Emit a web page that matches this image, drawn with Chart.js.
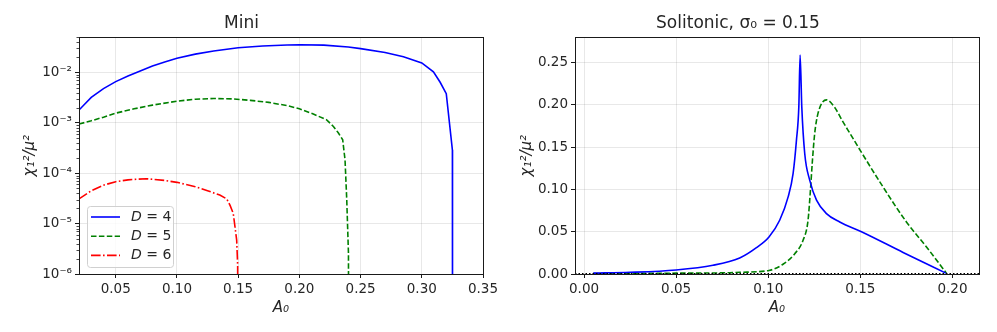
<!DOCTYPE html>
<html>
<head>
<meta charset="utf-8">
<script src="https://cdn.jsdelivr.net/npm/chart.js@4/dist/chart.umd.min.js"></script>
<style>
  body { margin: 0; background: #fff; width: 997px; height: 332px; overflow: hidden; }
  canvas { position: absolute; top: 0; }
  #mini-chart { left: 0; }
  #soli-chart { left: 497px; }
</style>
</head>
<body>
<canvas id="mini-chart" width="497" height="332"></canvas>
<canvas id="soli-chart" width="500" height="332"></canvas>
<script>
// left panel: Mini, log axis
const miniXTicks = [0.05, 0.10, 0.15, 0.20, 0.25, 0.30, 0.35];
const miniYTicks = [1e-6, 1e-5, 1e-4, 1e-3, 1e-2];

const miniD4X = [0.02, 0.03, 0.04, 0.05, 0.06, 0.07, 0.08, 0.09, 0.10, 0.115, 0.13, 0.15, 0.17, 0.19, 0.20, 0.22, 0.24, 0.25, 0.27, 0.285, 0.30, 0.3095, 0.315, 0.32, 0.325, 0.3251];
const miniD4Y = [1.8e-3, 3.2e-3, 4.8e-3, 6.6e-3, 8.5e-3, 0.0107, 0.0134, 0.0162, 0.0192, 0.0232, 0.0267, 0.031, 0.0336, 0.0352, 0.0355, 0.035, 0.032, 0.0298, 0.025, 0.0205, 0.0155, 0.0103, 0.0064, 0.0038, 2.9e-4, 1e-8];

const miniD5X = [0.02, 0.03, 0.04, 0.05, 0.065, 0.08, 0.10, 0.115, 0.13, 0.145, 0.16, 0.175, 0.19, 0.20, 0.2114, 0.2223, 0.2278, 0.2319, 0.2354, 0.2373, 0.2387, 0.2401, 0.2403];
const miniD5Y = [9.5e-4, 1.1e-3, 1.3e-3, 1.56e-3, 1.9e-3, 2.25e-3, 2.7e-3, 2.95e-3, 3.05e-3, 3.0e-3, 2.8e-3, 2.55e-3, 2.2e-3, 1.9e-3, 1.5e-3, 1.15e-3, 8.5e-4, 6.3e-4, 4.6e-4, 1.85e-4, 3e-5, 2.6e-6, 1e-8];

const miniD6X = [0.02, 0.03, 0.04, 0.05, 0.06, 0.075, 0.09, 0.10, 0.115, 0.125, 0.135, 0.1407, 0.1434, 0.146, 0.1488, 0.1496, 0.1497];
const miniD6Y = [3.1e-5, 4.5e-5, 5.8e-5, 6.8e-5, 7.4e-5, 7.8e-5, 7.2e-5, 6.6e-5, 5.4e-5, 4.5e-5, 3.7e-5, 3.1e-5, 2.3e-5, 1.6e-5, 4.7e-6, 1.5e-6, 1e-8];

// right panel: Solitonic
const soliXTicks = [0.00, 0.05, 0.10, 0.15, 0.20];
const soliYTicks = [0.00, 0.05, 0.10, 0.15, 0.20, 0.25];

const soliBlueX = [0.005, 0.025, 0.05, 0.07, 0.0845, 0.0936, 0.1004, 0.1062, 0.1108, 0.1135, 0.1153, 0.1166, 0.1173, 0.1182, 0.1198, 0.1225, 0.1262, 0.1316, 0.1388, 0.1506, 0.1732, 0.1964];
const soliBlueY = [0.001, 0.002, 0.0048, 0.0103, 0.019, 0.0312, 0.0438, 0.0636, 0.0912, 0.119, 0.158, 0.198, 0.259, 0.198, 0.1426, 0.111, 0.0873, 0.0715, 0.0615, 0.050, 0.0255, 0.001];

const soliGreenX = [0.005, 0.05, 0.079, 0.0845, 0.1004, 0.108, 0.1144, 0.1189, 0.1216, 0.1229, 0.124, 0.1252, 0.127, 0.1316, 0.1361, 0.14, 0.145, 0.15, 0.1623, 0.175, 0.1859, 0.1967];
const soliGreenY = [0.0005, 0.001, 0.0015, 0.002, 0.0042, 0.0115, 0.024, 0.040, 0.0636, 0.0992, 0.1347, 0.166, 0.19, 0.206, 0.197, 0.182, 0.164, 0.146, 0.103, 0.0616, 0.032, 0.001];

const FONT = "'DejaVu Sans', sans-serif";
const TEXT = "#262626";
const GRID = "rgba(0,0,0,0.09)";

function pts(xs, ys) {
  return xs.map((x, i) => ({ x: x, y: ys[i] }));
}

function sup(n) {
  const m = { "-": "\u207B", "0": "\u2070", "1": "\u00B9", "2": "\u00B2", "3": "\u00B3", "4": "\u2074", "5": "\u2075", "6": "\u2076", "7": "\u2077", "8": "\u2078", "9": "\u2079" };
  return String(n).split("").map(c => m[c]).join("");
}

const framePlugin = {
  id: "frame",
  afterDraw(chart) {
    const a = chart.chartArea, ctx = chart.ctx;
    ctx.save();
    ctx.strokeStyle = "#1a1a1a";
    ctx.lineWidth = 1;
    ctx.strokeRect(Math.round(a.left) + 0.5, Math.round(a.top) + 0.5, Math.round(a.right - a.left), Math.round(a.bottom - a.top));
    ctx.restore();
  }
};

const minorTicks = {
  id: "minorTicks",
  afterDraw(chart) {
    const y = chart.scales.y, ctx = chart.ctx;
    const left = Math.round(chart.chartArea.left);
    ctx.save();
    ctx.strokeStyle = "#1a1a1a";
    ctx.lineWidth = 0.8;
    for (let k = -6; k <= -2; k++) {
      for (let m = 2; m <= 9; m++) {
        const v = m * Math.pow(10, k);
        if (v > y.max) continue;
        const py = Math.round(y.getPixelForValue(v)) + 0.5;
        ctx.beginPath();
        ctx.moveTo(left - 2.5, py);
        ctx.lineTo(left, py);
        ctx.stroke();
      }
    }
    ctx.restore();
  }
};

const miniLegend = {
  id: "miniLegend",
  afterDraw(chart) {
    const ctx = chart.ctx;
    const bx = 87, by = 206, bw = 86, bh = 61;
    ctx.save();
    ctx.fillStyle = "rgba(255,255,255,0.8)";
    ctx.strokeStyle = "#d0d0d0";
    ctx.lineWidth = 1;
    ctx.beginPath();
    ctx.roundRect(bx + 0.5, by + 0.5, bw, bh, 3);
    ctx.fill();
    ctx.stroke();
    chart.data.datasets.forEach((ds, i) => {
      const ly = by + 11 + i * 19.2;
      ctx.strokeStyle = ds.borderColor;
      ctx.lineWidth = ds.borderWidth;
      ctx.setLineDash(ds.borderDash || []);
      ctx.beginPath();
      ctx.moveTo(91, ly);
      ctx.lineTo(120, ly);
      ctx.stroke();
      ctx.setLineDash([]);
      ctx.fillStyle = TEXT;
      ctx.textBaseline = "middle";
      ctx.font = "italic 14px " + FONT;
      ctx.fillText("D", 131, ly);
      const w = ctx.measureText("D").width;
      ctx.font = "14px " + FONT;
      ctx.fillText(" = " + ds.label.split("=")[1].trim(), 131 + w, ly);
    });
    ctx.restore();
  }
};

const zeroLine = {
  id: "zeroLine",
  afterDatasetsDraw(chart) {
    const a = chart.chartArea, ctx = chart.ctx;
    const py = Math.round(chart.scales.y.getPixelForValue(0)) - 0.5;
    ctx.save();
    ctx.strokeStyle = "#000";
    ctx.lineWidth = 1;
    ctx.setLineDash([1.5, 2]);
    ctx.beginPath();
    ctx.moveTo(a.left, py);
    ctx.lineTo(a.right, py);
    ctx.stroke();
    ctx.restore();
  }
};

function xScale(min, max, ticks) {
  return {
    type: "linear", min: min, max: max,
    afterBuildTicks: s => { s.ticks = ticks.map(v => ({ value: v })); },
    afterFit: s => { s.height = 58; s.paddingLeft = 0; s.paddingRight = 0; },
    ticks: { color: TEXT, font: { family: FONT, size: 13.5 }, padding: 3, maxRotation: 0, callback: v => v.toFixed(2) },
    grid: { color: GRID, tickColor: "#1a1a1a", tickLength: 4 },
    border: { display: false },
    title: { display: true, text: "A\u2080", color: TEXT, font: { family: FONT, size: 15, style: "italic" }, padding: { top: 0, bottom: 15 } }
  };
}

function yTitle() {
  return { display: true, text: "\u03C7\u2081\u00B2/\u03BC\u00B2", color: TEXT, font: { family: FONT, size: 15, style: "italic" }, padding: { top: 21, bottom: 0 } };
}

function titleOpts(text) {
  return { display: true, text: text, color: TEXT, font: { family: FONT, size: 17, weight: "normal" }, padding: { top: 13.5, bottom: 3.4 } };
}

new Chart(document.getElementById("mini-chart"), {
  type: "line",
  data: {
    datasets: [
      { label: "D = 4", data: pts(miniD4X, miniD4Y), borderColor: "#0000ff", borderWidth: 1.6, pointRadius: 0, tension: 0 },
      { label: "D = 5", data: pts(miniD5X, miniD5Y), borderColor: "#008000", borderWidth: 1.6, pointRadius: 0, tension: 0, borderDash: [5.5, 2.4] },
      { label: "D = 6", data: pts(miniD6X, miniD6Y), borderColor: "#ff0000", borderWidth: 1.6, pointRadius: 0, tension: 0, borderDash: [9.6, 2.4, 1.6, 2.4] }
    ]
  },
  options: {
    responsive: false, animation: false, devicePixelRatio: 1,
    layout: { padding: { left: 0, right: 14, top: 0, bottom: 0 } },
    plugins: { legend: { display: false }, tooltip: { enabled: false }, title: titleOpts("Mini") },
    scales: {
      x: xScale(0.02, 0.35, miniXTicks),
      y: {
        type: "logarithmic", min: 1e-6, max: 0.05,
        afterBuildTicks: s => { s.ticks = miniYTicks.map(v => ({ value: v })); },
        afterFit: s => { s.width = 79; s.paddingTop = 0; s.paddingBottom = 0; },
        ticks: { color: TEXT, font: { family: FONT, size: 13.5 }, padding: 3, callback: v => "10" + sup(Math.round(Math.log10(v))) },
        grid: { color: GRID, tickColor: "#1a1a1a", tickLength: 4 },
        border: { display: false },
        title: yTitle()
      }
    }
  },
  plugins: [framePlugin, minorTicks, miniLegend]
});

new Chart(document.getElementById("soli-chart"), {
  type: "line",
  data: {
    datasets: [
      { label: "D = 4", data: pts(soliBlueX, soliBlueY), borderColor: "#0000ff", borderWidth: 1.6, pointRadius: 0, cubicInterpolationMode: "monotone" },
      { label: "D = 5", data: pts(soliGreenX, soliGreenY), borderColor: "#008000", borderWidth: 1.6, pointRadius: 0, cubicInterpolationMode: "monotone", borderDash: [5.5, 2.4] }
    ]
  },
  options: {
    responsive: false, animation: false, devicePixelRatio: 1,
    layout: { padding: { left: 0, right: 18, top: 0, bottom: 0 } },
    plugins: { legend: { display: false }, tooltip: { enabled: false }, title: titleOpts("Solitonic, \u03C3\u2080 = 0.15") },
    scales: {
      x: xScale(-0.0049, 0.2144, soliXTicks),
      y: {
        type: "linear", min: 0, max: 0.28,
        afterBuildTicks: s => { s.ticks = soliYTicks.map(v => ({ value: v })); },
        afterFit: s => { s.width = 78; s.paddingTop = 0; s.paddingBottom = 0; },
        ticks: { color: TEXT, font: { family: FONT, size: 13.5 }, padding: 3, callback: v => v.toFixed(2) },
        grid: { color: GRID, tickColor: "#1a1a1a", tickLength: 4 },
        border: { display: false },
        title: yTitle()
      }
    }
  },
  plugins: [framePlugin, zeroLine]
});
</script>
</body>
</html>
